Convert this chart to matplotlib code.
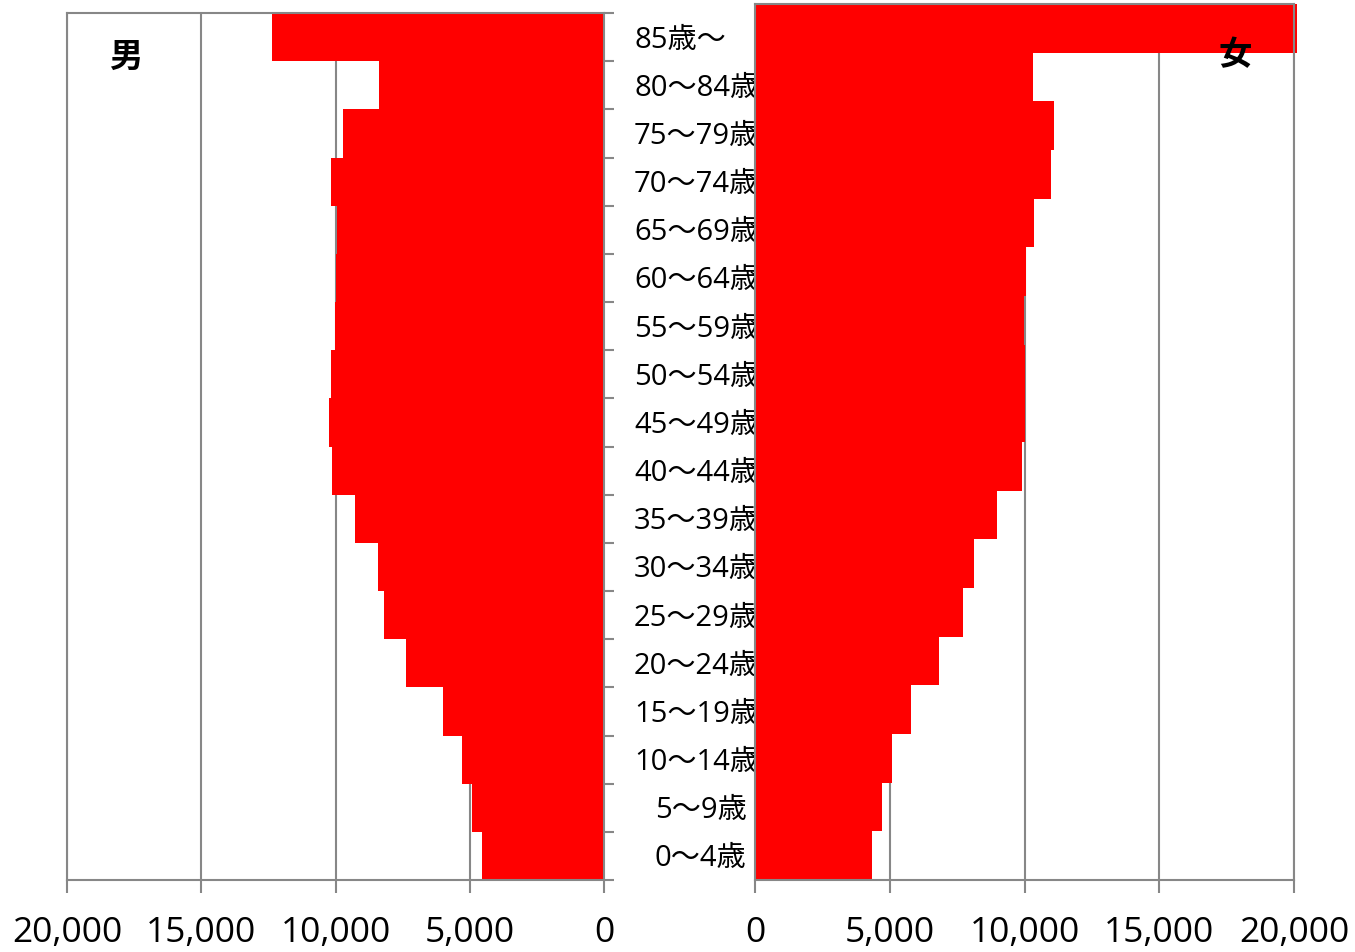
import numpy as np
import matplotlib
matplotlib.use('Agg')
import matplotlib.pyplot as plt
import matplotlib.transforms as mtransforms
from matplotlib.ticker import FuncFormatter

plt.rcParams['font.family'] = ['Open Sans', 'Noto Sans CJK JP', 'DejaVu Sans']

# 年齢区分（下から）
age_labels = ['0～4歳', '5～9歳', '10～14歳', '15～19歳', '20～24歳', '25～29歳',
              '30～34歳', '35～39歳', '40～44歳', '45～49歳', '50～54歳', '55～59歳',
              '60～64歳', '65～69歳', '70～74歳', '75～79歳', '80～84歳', '85歳～']

# 人口（男・女）
male = [4540, 4900, 5300, 6010, 7360, 8180, 8430, 9260, 10140, 10240,
        10170, 10030, 9980, 9960, 10180, 9710, 8370, 12350]
female = [4340, 4710, 5070, 5770, 6810, 7720, 8140, 8970, 9890, 10010,
          10000, 9980, 10060, 10350, 10990, 11090, 10300, 20100]

x_ticks = [0, 5000, 10000, 15000, 20000]

RED = '#FF0000'
GRAY = '#878787'

W, H = 1355, 952
fig = plt.figure(figsize=(W / 100, H / 100), dpi=100)
ax1 = fig.add_axes([67 / W, 72 / H, 537 / W, 867 / H])
ax2 = fig.add_axes([755 / W, 72 / H, 539 / W, 876 / H])

y = np.arange(len(age_labels))
fmt = FuncFormatter(lambda v, p: '{:,.0f}'.format(v))

# 男
ax1.barh(y, male, height=1.0, color=RED, zorder=2)
ax1.set_xlim(20000, 0)
ax1.set_ylim(-0.5, len(age_labels) - 0.5)
ax1.yaxis.tick_right()
ax1.set_yticks(np.arange(-0.5, len(age_labels), 1.0))
ax1.set_yticklabels([])
ax1.tick_params(axis='y', direction='out', length=7, width=1.5, color=GRAY)

# 女
bars = ax2.barh(y, female, height=1.0, color=RED, zorder=2)
bars[-1].set_clip_on(False)
ax2.set_xlim(0, 20000)
ax2.set_ylim(-0.5, len(age_labels) - 0.5)
ax2.set_yticks([])

for ax in (ax1, ax2):
    ax.set_xticks(x_ticks)
    ax.xaxis.set_major_formatter(fmt)
    ax.xaxis.grid(True, color=GRAY, linewidth=1.5)
    ax.tick_params(axis='x', direction='out', length=9, width=1.5, color=GRAY,
                   labelsize=25.5, pad=17)
    for s in ax.spines.values():
        s.set_color(GRAY)
        s.set_linewidth(1.5)

# 年齢ラベル（右のグラフの下に描いて棒で隠れるように）
tr = mtransforms.blended_transform_factory(fig.transFigure, ax1.transData)
tr = mtransforms.offset_copy(tr, fig=fig, x=0, y=-3, units='dots')
for i, lab in enumerate(age_labels):
    xpos = 655 / W if lab[1] == '～' else 634 / W
    ax2.text(xpos, i, lab, transform=tr, ha='left', va='center',
             fontsize=21, zorder=1, clip_on=False)

fig.text(126 / W, 1 - 57 / H, '男', ha='center', va='center', fontsize=24,
         fontweight='bold', family=['Noto Sans CJK JP'])
fig.text(1235 / W, 1 - 56 / H, '女', ha='center', va='center', fontsize=24,
         fontweight='bold', family=['Noto Sans CJK JP'])

fig.savefig('out.png', dpi=100)
